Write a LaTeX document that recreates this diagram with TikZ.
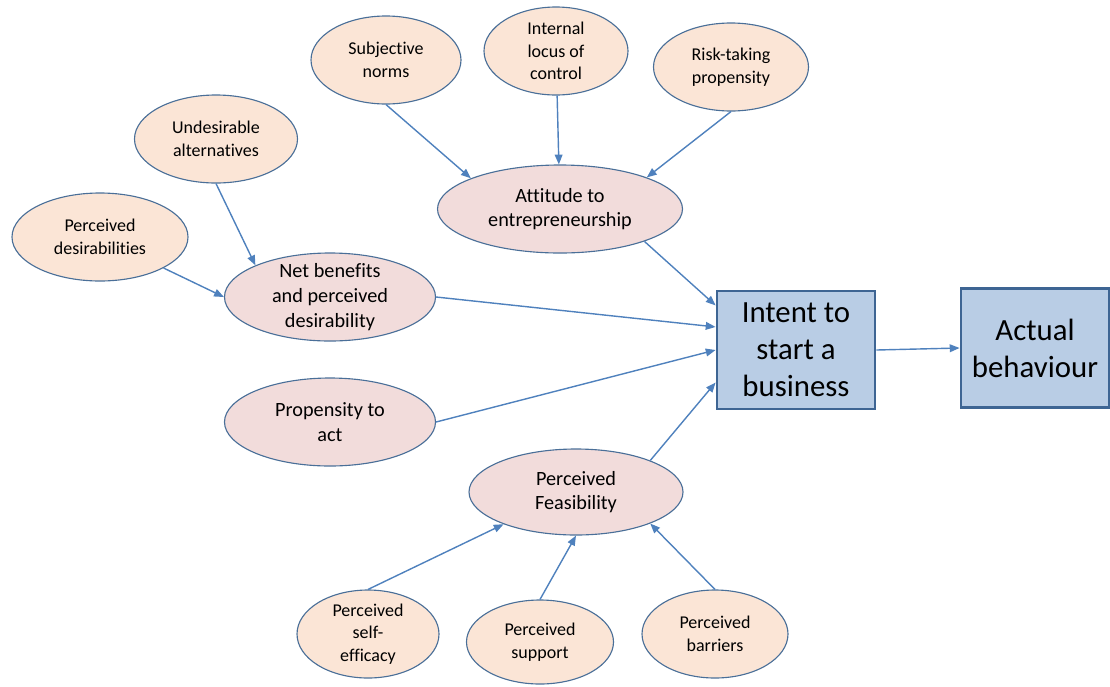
\documentclass[tikz,border=0pt]{standalone}
\usepackage{fontspec}
\setmainfont{Carlito}[Ligatures=CommonOff]
\usetikzlibrary{shapes.geometric,arrows.meta}

\definecolor{peach}{HTML}{FBE5D6}
\definecolor{rose}{HTML}{F2DCDB}
\definecolor{boxblue}{HTML}{B9CDE5}
\definecolor{boxline}{HTML}{3E6593}
\definecolor{ovalline}{HTML}{4A6F98}
\definecolor{linkblue}{HTML}{4F81BD}
\newcommand{\pxu}{0.025cm}

\tikzset{
	factor/.style={ellipse, draw=ovalline, line width=0.8pt, fill=peach, align=center,
		inner xsep=0pt, inner ysep=-8pt, minimum height=88*\pxu,
		font=\fontsize{12.8}{16}\selectfont},
	driver/.style={factor, fill=rose, font=\fontsize{14.4}{17.6}\selectfont},
	outcome/.style={rectangle, draw=boxline, line width=2pt, fill=boxblue, align=center,
		font=\fontsize{21.9}{26.3}\selectfont},
	link/.style={draw=linkblue, line width=1pt, -{Triangle[length=7pt,width=5.5pt]}}
}

\begin{document}
\begin{tikzpicture}[x=\pxu, y=-\pxu]
		\useasboundingbox (0,0) rectangle (1110,686);

		% outer factors
		\node[factor, minimum width=150*\pxu] (subj) at (386,60) {Subjective\\norms};
		\node[factor, minimum width=144*\pxu] (locus) at (556,51) {Internal\\locus of\\control};
		\node[factor, minimum width=155*\pxu] (risk) at (731,67) {Risk-taking\\propensity};
		\node[factor, minimum width=163*\pxu] (undes) at (216,139) {Undesirable\\alternatives};
		\node[factor, minimum width=176*\pxu] (pdes) at (100,237) {Perceived\\desirabilities};
		\node[factor, minimum width=142*\pxu] (eff) at (368,634) {Perceived\\self-\\efficacy};
		\node[factor, minimum width=147*\pxu, minimum height=84*\pxu] (sup) at (540,642) {Perceived\\support};
		\node[factor, minimum width=146*\pxu] (barr) at (715,634) {Perceived\\barriers};

		% drivers
		\node[driver, minimum width=245*\pxu] (att) at (560,209) {Attitude to\\entrepreneurship};
		\node[driver, minimum width=211*\pxu] (net) at (330,297) {Net benefits\\and perceived\\desirability};
		\node[driver, minimum width=211*\pxu] (prop) at (330,422) {Propensity to\\act};
		\node[driver, minimum width=214*\pxu, minimum height=86*\pxu] (feas) at (576,492) {Perceived\\Feasibility};

		% outcomes
		\node[outcome, minimum width=158*\pxu, minimum height=118*\pxu] (intent) at (796,350) {Intent to\\start a\\business};
		\node[outcome, minimum width=148*\pxu, minimum height=119*\pxu] (actual) at (1035,348) {Actual\\behaviour};

		\draw[link] (subj.south) -- (att.161);
		\draw[link] (locus) -- (att);
		\draw[link] (risk.south) -- (att.20);
		\draw[link] (undes.south) -- (net.157);
		\draw[link] (pdes.-26) -- (net.west);
		\draw[link] (att.-21) -- (intent.151);
		\draw[link] (net.east) -- (intent.164);
		\draw[link] (prop.east) -- (intent.west);
		\draw[link] (feas.23) -- (intent.202);
		\draw[link] (intent.east) -- (actual.west);
		\draw[link] (eff.north) -- (feas.204);
		\draw[link] (sup.north) -- (feas.south);
		\draw[link] (barr.north) -- (feas.-23);
	\end{tikzpicture}
\end{document}
